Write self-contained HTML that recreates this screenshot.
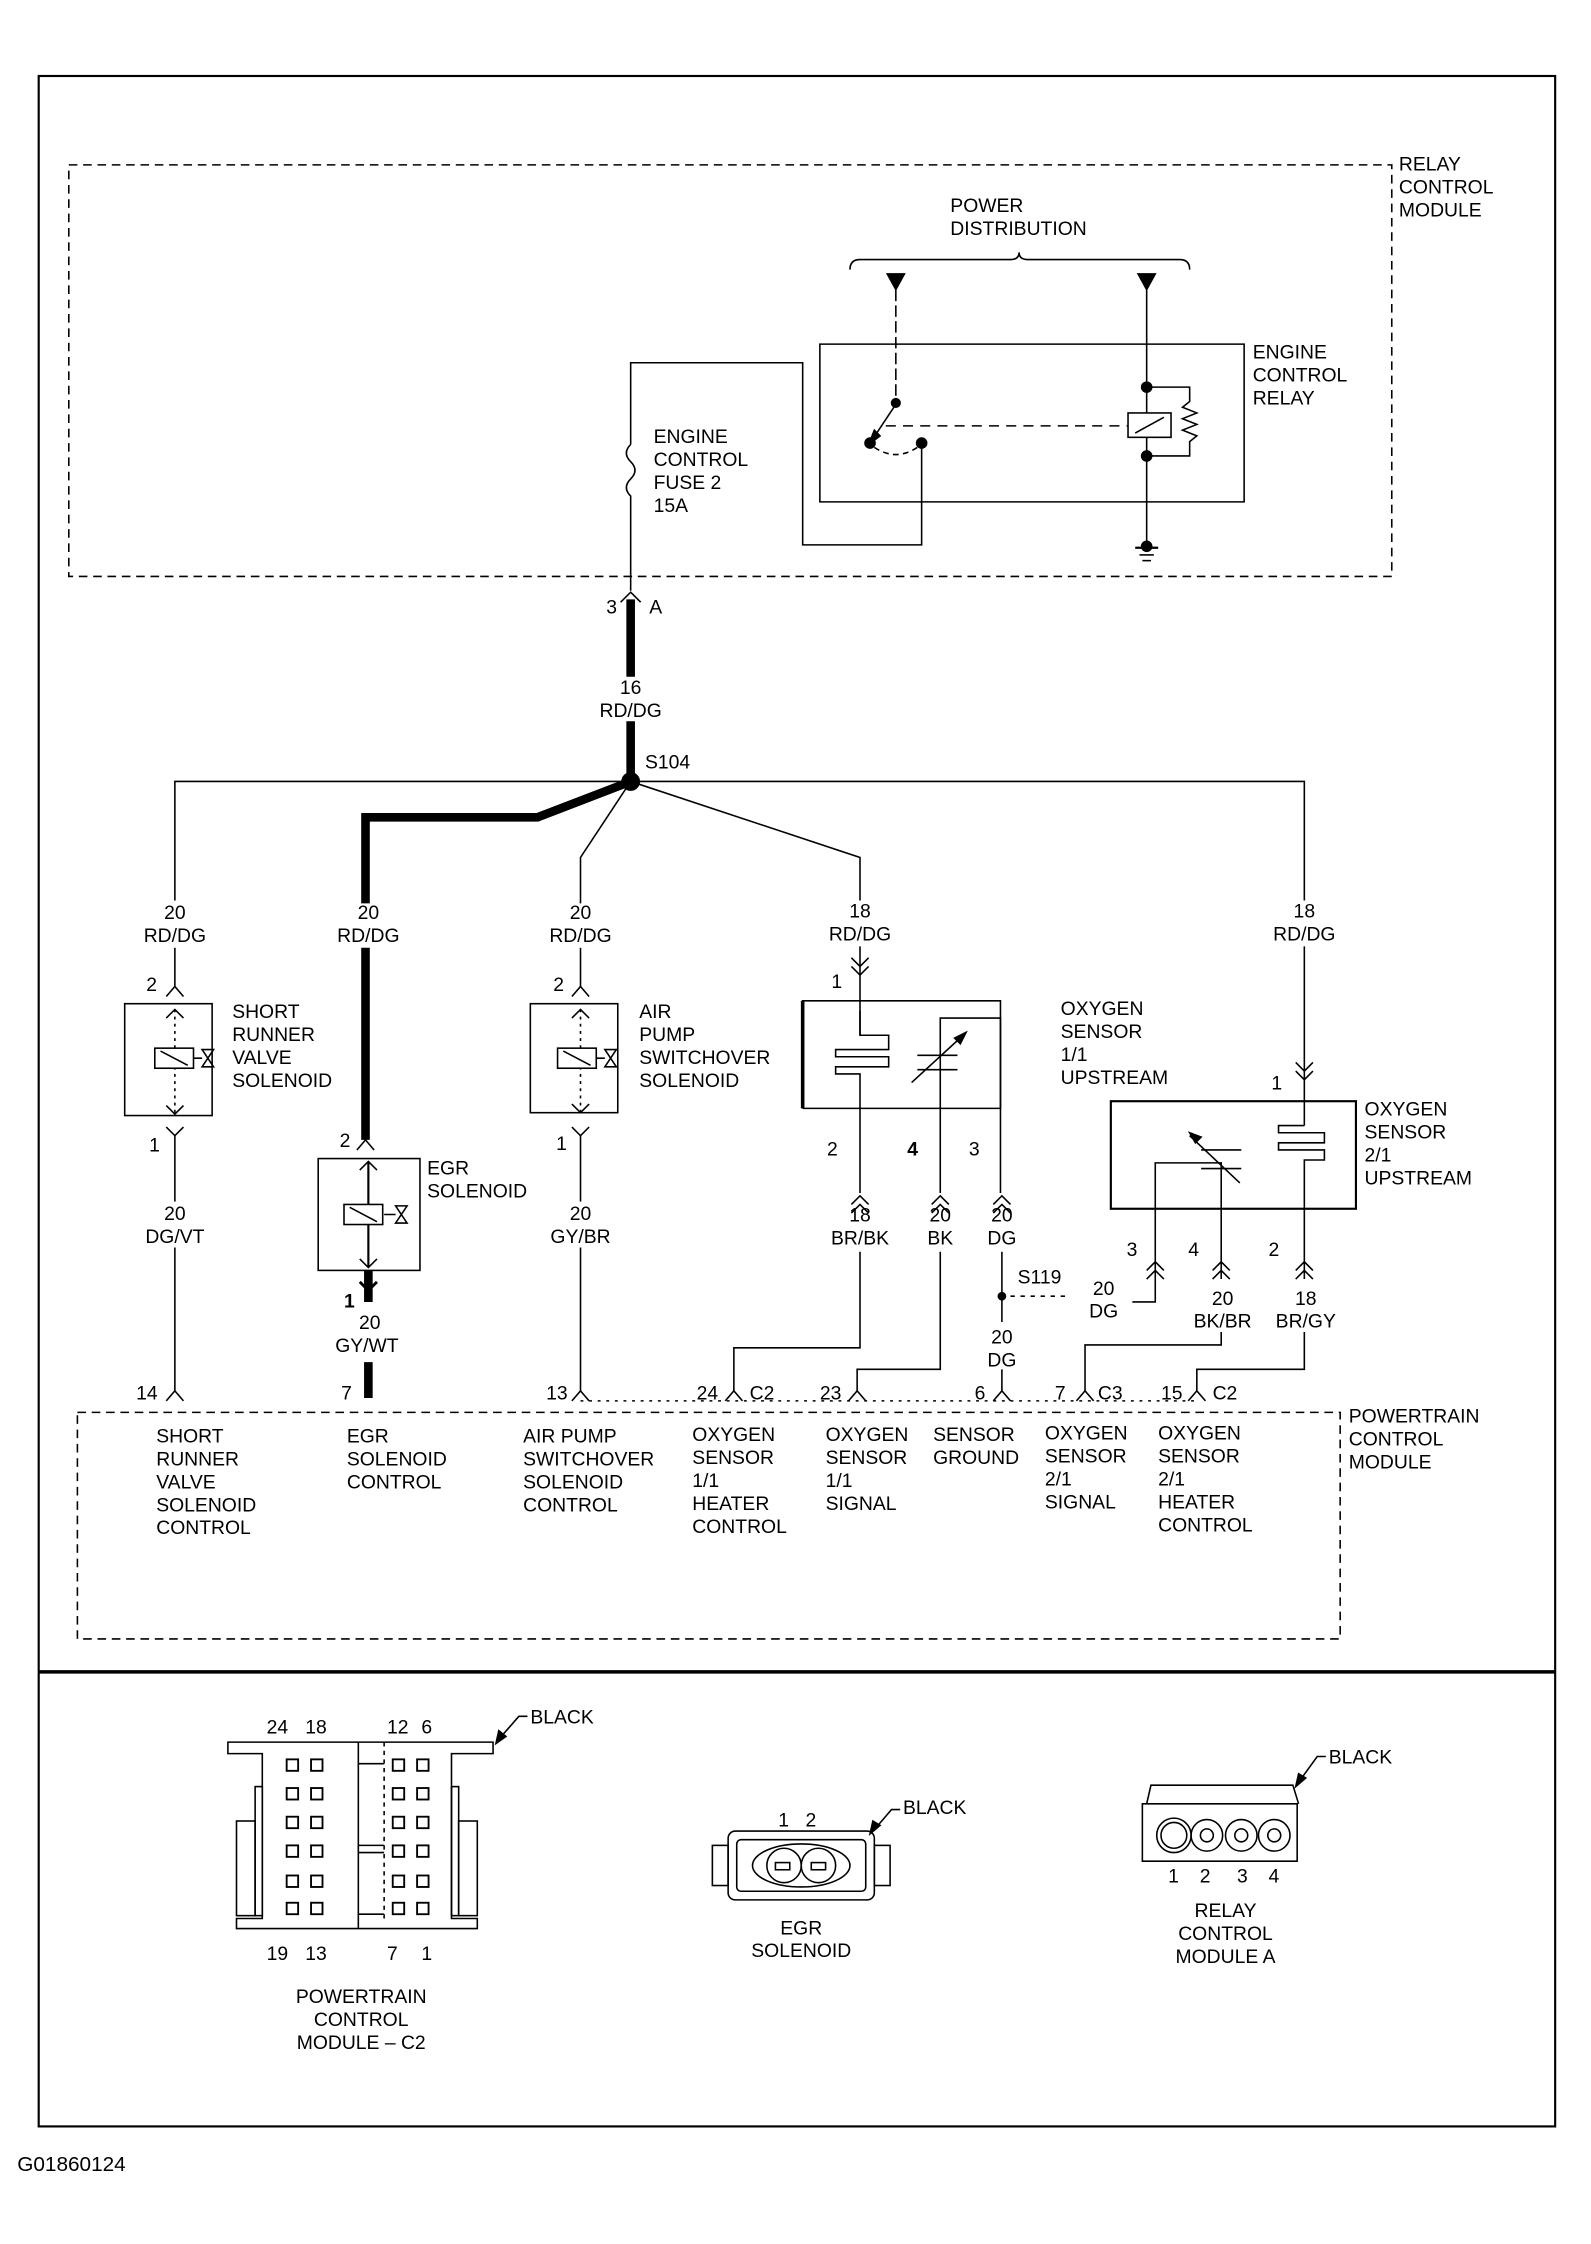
<!DOCTYPE html>
<html><head><meta charset="utf-8"><style>
html,body{margin:0;padding:0;background:#fff;}
svg{display:block;}
text{font-family:"Liberation Sans",sans-serif;font-size:13.5px;fill:#000;}
.c{text-anchor:middle;}
</style></head><body>
<svg width="1591" height="2244" viewBox="0 0 1110 1565" preserveAspectRatio="none" xmlns="http://www.w3.org/2000/svg">
<g fill="none" stroke="#000" stroke-width="1.1">
<rect x="27" y="53" width="1058" height="1430" stroke-width="1.5"/>
<line x1="27" y1="1166" x2="1085" y2="1166" stroke-width="2.5"/>
<rect x="48" y="115" width="923" height="287" stroke-dasharray="6,4"/>
<path d="M593,188 Q593,181 600,181 L705,181 Q711,181 711,176 Q711,181 717,181 L823,181 Q830,181 830,188"/>
<polygon points="619,191 631,191 625,202" fill="#000"/>
<polygon points="794,191 806,191 800,202" fill="#000"/>
<path d="M572,240 L868,240 L868,350 L572,350 Z"/>
<line x1="625" y1="202" x2="625" y2="280" stroke-dasharray="8,3"/>
<line x1="625" y1="282" x2="609" y2="306"/>
<polygon points="606,310 610,300 614,304" fill="#000"/>
<circle cx="625" cy="281" r="3" fill="#000"/>
<circle cx="607" cy="309" r="3.5" fill="#000"/>
<circle cx="643" cy="309" r="3.5" fill="#000"/>
<path d="M610,312 Q625,322 640,312" stroke-dasharray="4,3"/>
<line x1="618" y1="297" x2="787" y2="297" stroke-dasharray="7,5"/>
<line x1="800" y1="202" x2="800" y2="381"/>
<rect x="787" y="288" width="30" height="17" fill="#fff"/>
<line x1="792" y1="302" x2="812" y2="291"/>
<circle cx="800" cy="270" r="3.5" fill="#000"/>
<circle cx="800" cy="318" r="3.5" fill="#000"/>
<path d="M800,270 L830,270 L830,280 L825,284 L835,288 L825,292 L835,296 L825,300 L835,304 L830,308 L830,318 L800,318"/>
<circle cx="800" cy="381" r="3.5" fill="#000"/>
<line x1="792" y1="382" x2="808" y2="382" stroke-width="1.6"/>
<line x1="795" y1="387" x2="805" y2="387"/>
<line x1="797" y1="391" x2="803" y2="391"/>
<path d="M643,309 L643,380 L560,380 L560,253 L440,253 L440,310"/>
<path d="M440,310 Q434,316 440,322 Q446,328 440,334 Q434,340 440,346 L440,412"/>
<path d="M433,420 L440,413 L447,420"/>
<line x1="440" y1="418" x2="440" y2="472" stroke-width="6"/>
<line x1="440" y1="503" x2="440" y2="545" stroke-width="6"/>
<circle cx="440" cy="545" r="6" fill="#000"/>
<path d="M440,545 L122,545 L122,628"/>
<line x1="122" y1="661" x2="122" y2="688"/>
<path d="M440,545 L910,545 L910,628"/>
<path d="M440,545 L375,570 L255,570 L255,630" stroke-width="6"/>
<path d="M440,545 L405,598 L405,630"/>
<path d="M440,545 L600,598 L600,628"/>
<!-- SR solenoid -->
<path d="M116,695 L122,688 L128,695"/>
<rect x="87" y="700" width="61" height="78"/>
<path d="M116,710 L122,704 L128,710"/><path d="M116,771 L122,777 L128,771"/>
<line x1="122" y1="704" x2="122" y2="777" stroke-dasharray="2,3"/>
<rect x="108" y="731" width="27" height="14" fill="#fff"/><line x1="112" y1="733" x2="131" y2="743"/>
<path d="M135,738 L141,738 M141,732 L149,732 L141,744 L149,744 Z"/>
<path d="M116,786 L122,792 L128,786"/>
<line x1="122" y1="792" x2="122" y2="838"/>
<line x1="122" y1="870" x2="122" y2="970"/>
<path d="M116,977 L122,970 L128,977"/>
<!-- EGR -->
<line x1="255" y1="661" x2="255" y2="795" stroke-width="6"/>
<path d="M249,802 L255,795 L261,802"/>
<rect x="222" y="808" width="71" height="78"/>
<line x1="257" y1="810" x2="257" y2="884" stroke-width="1.5"/>
<path d="M251,816 L257,810 L263,816"/><path d="M251,878 L257,884 L263,878"/>
<rect x="240" y="840" width="27" height="14" fill="#fff"/><line x1="244" y1="842" x2="263" y2="852"/>
<path d="M268,847 L276,847 M276,841 L284,841 L276,853 L284,853 Z"/>
<line x1="257" y1="886" x2="257" y2="908" stroke-width="6"/>
<path d="M251,894 L257,900 L263,894" stroke-width="2"/>
<line x1="257" y1="950" x2="257" y2="975" stroke-width="6"/>
<!-- APS -->
<line x1="405" y1="661" x2="405" y2="688"/>
<path d="M399,695 L405,688 L411,695"/>
<rect x="370" y="700" width="61" height="76"/>
<path d="M399,710 L405,704 L411,710"/><path d="M399,770 L405,776 L411,770"/>
<line x1="405" y1="704" x2="405" y2="776" stroke-dasharray="2,3"/>
<rect x="389" y="731" width="27" height="14" fill="#fff"/><line x1="393" y1="733" x2="412" y2="743"/>
<path d="M416,738 L422,738 M422,732 L430,732 L422,744 L430,744 Z"/>
<path d="M399,786 L405,792 L411,786"/>
<line x1="405" y1="792" x2="405" y2="838"/>
<line x1="405" y1="870" x2="405" y2="970"/>
<path d="M399,977 L405,970 L411,977"/>
<!-- O2 1/1 -->
<line x1="600" y1="660" x2="600" y2="722"/>
<path d="M594,668 L600,674 L606,668 M594,674 L600,680 L606,674"/>
<path d="M560,773 L560,698 L698,698 L698,773 L560,773" />
<line x1="560" y1="698" x2="560" y2="773" stroke-width="2.5"/>
<path d="M600,705 L600,722 L620,722 L620,732 L583,732 L583,737 L620,737 L620,744 L583,744 L583,749 L600,749 L600,832"/>
<path d="M656,832 L656,710 L698,710 L698,832"/>
<path d="M640,736 L668,736 M640,746 L668,746 M636,755 L672,722"/>
<polygon points="674,720 666,724 670,728" fill="#000"/>
<path d="M594,840 L600,834 L606,840 M594,846 L600,840 L606,846"/>
<path d="M650,840 L656,834 L662,840 M650,846 L656,840 L662,846"/>
<path d="M693,840 L699,834 L705,840 M693,846 L699,840 L705,846"/>
<path d="M600,873 L600,940 L512,940 L512,970"/>
<path d="M656,873 L656,955 L598,955 L598,970"/>
<path d="M699,873 L699,922"/>
<circle cx="699" cy="904" r="2.5" fill="#000"/>
<line x1="705" y1="904" x2="745" y2="904" stroke-dasharray="3,4"/>
<line x1="699" y1="955" x2="699" y2="970"/>
<path d="M506,977 L512,970 L518,977"/>
<path d="M592,977 L598,970 L604,977"/>
<path d="M693,977 L699,970 L705,977"/>
<!-- O2 2/1 -->
<line x1="910" y1="660" x2="910" y2="785"/>
<path d="M904,741 L910,747 L916,741 M904,747 L910,753 L916,747"/>
<rect x="775" y="768" width="171" height="75" stroke-width="1.5"/>
<path d="M910,785 L892,785 L892,790 L924,790 L924,797 L892,797 L892,802 L924,802 L924,809 L910,809 L910,892"/>
<path d="M806,892 L806,811 L852,811 L852,892"/>
<path d="M838,802 L866,802 M838,815 L866,815 M830,792 L865,825"/>
<polygon points="830,790 838,793 834,797" fill="#000"/>
<path d="M800,886 L806,880 L812,886 M800,892 L806,886 L812,892"/>
<path d="M846,886 L852,880 L858,886 M846,892 L852,886 L858,892"/>
<path d="M904,886 L910,880 L916,886 M904,892 L910,886 L916,892"/>
<path d="M806,892 L806,908 L790,908"/>
<path d="M852,929 L852,938 L757,938 L757,970"/>
<path d="M910,929 L910,955 L835,955 L835,970"/>
<path d="M751,977 L757,970 L763,977"/>
<path d="M829,977 L835,970 L841,977"/>
<line x1="405" y1="977" x2="835" y2="977" stroke-dasharray="2,4"/>
<rect x="54" y="985" width="881" height="158" stroke-dasharray="6,4"/>
<!-- PCM connector -->
<path d="M159,1215 L344,1215 L344,1223 L315,1223 L315,1338 L333,1338 L333,1345 L165,1345 L165,1338 L183,1338 L183,1223 L159,1223 Z"/>
<line x1="250" y1="1215" x2="250" y2="1345"/>
<line x1="268" y1="1215" x2="268" y2="1340" stroke-dasharray="3,3"/>
<line x1="250" y1="1230" x2="268" y2="1230"/><line x1="250" y1="1287" x2="268" y2="1287"/><line x1="250" y1="1292" x2="268" y2="1292"/><line x1="250" y1="1335" x2="268" y2="1335"/>
<rect x="165" y="1270" width="13" height="66"/><rect x="178" y="1246" width="5" height="90"/>
<rect x="320" y="1270" width="13" height="66"/><rect x="315" y="1246" width="5" height="90"/>
<g stroke-width="1.3">
<rect x="200" y="1227" width="8" height="8"/><rect x="217" y="1227" width="8" height="8"/><rect x="274" y="1227" width="8" height="8"/><rect x="291" y="1227" width="8" height="8"/>
<rect x="200" y="1247" width="8" height="8"/><rect x="217" y="1247" width="8" height="8"/><rect x="274" y="1247" width="8" height="8"/><rect x="291" y="1247" width="8" height="8"/>
<rect x="200" y="1267" width="8" height="8"/><rect x="217" y="1267" width="8" height="8"/><rect x="274" y="1267" width="8" height="8"/><rect x="291" y="1267" width="8" height="8"/>
<rect x="200" y="1287" width="8" height="8"/><rect x="217" y="1287" width="8" height="8"/><rect x="274" y="1287" width="8" height="8"/><rect x="291" y="1287" width="8" height="8"/>
<rect x="200" y="1308" width="8" height="8"/><rect x="217" y="1308" width="8" height="8"/><rect x="274" y="1308" width="8" height="8"/><rect x="291" y="1308" width="8" height="8"/>
<rect x="200" y="1327" width="8" height="8"/><rect x="217" y="1327" width="8" height="8"/><rect x="274" y="1327" width="8" height="8"/><rect x="291" y="1327" width="8" height="8"/>
</g>
<path d="M368,1197 L362,1197 L348,1213"/><polygon points="346,1216 348,1207 353,1211" fill="#000"/>
<!-- EGR connector -->
<rect x="508" y="1277" width="102" height="48" rx="5"/>
<rect x="514" y="1283" width="90" height="36" rx="3"/>
<rect x="497" y="1287" width="11" height="28"/><rect x="610" y="1287" width="11" height="28"/>
<ellipse cx="559" cy="1301" rx="34" ry="15"/>
<circle cx="547" cy="1301" r="12"/><circle cx="571" cy="1301" r="12"/>
<rect x="541" y="1299" width="10" height="5"/><rect x="566" y="1299" width="10" height="5"/>
<path d="M628,1262 L622,1262 L610,1276"/><polygon points="607,1279 609,1270 614,1273" fill="#000"/>
<!-- relay A connector -->
<path d="M797,1298 L797,1258 L905,1258 L905,1298 Z"/>
<path d="M800,1258 L803,1245 L902,1245 L906,1258"/>
<circle cx="819" cy="1280" r="12"/><circle cx="819" cy="1280" r="9"/>
<circle cx="842" cy="1280" r="11"/><circle cx="842" cy="1280" r="4.5"/>
<circle cx="866" cy="1280" r="11"/><circle cx="866" cy="1280" r="4.5"/>
<circle cx="889" cy="1280" r="11"/><circle cx="889" cy="1280" r="4.5"/>
<path d="M925,1225 L919,1225 L906,1243"/><polygon points="904,1246 906,1237 911,1240" fill="#000"/>
</g>
<text x="976" y="119">RELAY</text><text x="976" y="135">CONTROL</text><text x="976" y="151">MODULE</text>
<text x="663" y="148">POWER</text><text x="663" y="164">DISTRIBUTION</text>
<text x="874" y="250">ENGINE</text><text x="874" y="266">CONTROL</text><text x="874" y="282">RELAY</text>
<text x="456" y="309">ENGINE</text><text x="456" y="325">CONTROL</text><text x="456" y="341">FUSE 2</text><text x="456" y="357">15A</text>
<text x="423" y="428">3</text><text x="453" y="428">A</text>
<text class="c" x="440" y="484">16</text><text class="c" x="440" y="500">RD/DG</text>
<text x="450" y="536">S104</text>
<text class="c" x="122" y="641">20</text><text class="c" x="122" y="657">RD/DG</text>
<text class="c" x="257" y="641">20</text><text class="c" x="257" y="657">RD/DG</text>
<text class="c" x="405" y="641">20</text><text class="c" x="405" y="657">RD/DG</text>
<text class="c" x="600" y="640">18</text><text class="c" x="600" y="656">RD/DG</text>
<text class="c" x="910" y="640">18</text><text class="c" x="910" y="656">RD/DG</text>
<text x="102" y="691">2</text><text x="162" y="710">SHORT</text><text x="162" y="726">RUNNER</text><text x="162" y="742">VALVE</text><text x="162" y="758">SOLENOID</text>
<text x="104" y="803">1</text>
<text class="c" x="122" y="851">20</text><text class="c" x="122" y="867">DG/VT</text>
<text x="95" y="976">14</text>
<text x="237" y="800">2</text><text x="298" y="819">EGR</text><text x="298" y="835">SOLENOID</text>
<text x="240" y="912" font-weight="bold">1</text>
<text class="c" x="258" y="927">20</text><text class="c" x="256" y="943">GY/WT</text>
<text x="238" y="976">7</text>
<text x="386" y="691">2</text><text x="446" y="710">AIR</text><text x="446" y="726">PUMP</text><text x="446" y="742">SWITCHOVER</text><text x="446" y="758">SOLENOID</text>
<text x="388" y="802">1</text>
<text class="c" x="405" y="851">20</text><text class="c" x="405" y="867">GY/BR</text>
<text x="381" y="976">13</text>
<text x="580" y="689">1</text>
<text x="740" y="708">OXYGEN</text><text x="740" y="724">SENSOR</text><text x="740" y="740">1/1</text><text x="740" y="756">UPSTREAM</text>
<text x="577" y="806">2</text><text x="633" y="806" font-weight="bold">4</text><text x="676" y="806">3</text>
<text class="c" x="600" y="852">18</text><text class="c" x="600" y="868">BR/BK</text>
<text class="c" x="656" y="852">20</text><text class="c" x="656" y="868">BK</text>
<text class="c" x="699" y="852">20</text><text class="c" x="699" y="868">DG</text>
<text x="710" y="895">S119</text>
<text class="c" x="699" y="937">20</text><text class="c" x="699" y="953">DG</text>
<text x="486" y="976">24</text><text x="523" y="976">C2</text>
<text x="572" y="976">23</text><text x="680" y="976">6</text>
<text x="887" y="760">1</text>
<text x="952" y="778">OXYGEN</text><text x="952" y="794">SENSOR</text><text x="952" y="810">2/1</text><text x="952" y="826">UPSTREAM</text>
<text x="786" y="876">3</text><text x="829" y="876">4</text><text x="885" y="876">2</text>
<text class="c" x="770" y="903">20</text><text class="c" x="770" y="919">DG</text>
<text class="c" x="853" y="910">20</text><text class="c" x="853" y="926">BK/BR</text>
<text class="c" x="911" y="910">18</text><text class="c" x="911" y="926">BR/GY</text>
<text x="736" y="976">7</text><text x="766" y="976">C3</text>
<text x="810" y="976">15</text><text x="846" y="976">C2</text>
<text x="109" y="1006">SHORT</text><text x="109" y="1022">RUNNER</text><text x="109" y="1038">VALVE</text><text x="109" y="1054">SOLENOID</text><text x="109" y="1070">CONTROL</text>
<text x="242" y="1006">EGR</text><text x="242" y="1022">SOLENOID</text><text x="242" y="1038">CONTROL</text>
<text x="365" y="1006">AIR PUMP</text><text x="365" y="1022">SWITCHOVER</text><text x="365" y="1038">SOLENOID</text><text x="365" y="1054">CONTROL</text>
<text x="483" y="1005">OXYGEN</text><text x="483" y="1021">SENSOR</text><text x="483" y="1037">1/1</text><text x="483" y="1053">HEATER</text><text x="483" y="1069">CONTROL</text>
<text x="576" y="1005">OXYGEN</text><text x="576" y="1021">SENSOR</text><text x="576" y="1037">1/1</text><text x="576" y="1053">SIGNAL</text>
<text x="651" y="1005">SENSOR</text><text x="651" y="1021">GROUND</text>
<text x="729" y="1004">OXYGEN</text><text x="729" y="1020">SENSOR</text><text x="729" y="1036">2/1</text><text x="729" y="1052">SIGNAL</text>
<text x="808" y="1004">OXYGEN</text><text x="808" y="1020">SENSOR</text><text x="808" y="1036">2/1</text><text x="808" y="1052">HEATER</text><text x="808" y="1068">CONTROL</text>
<text x="941" y="992">POWERTRAIN</text><text x="941" y="1008">CONTROL</text><text x="941" y="1024">MODULE</text>
<text x="186" y="1209">24</text><text x="213" y="1209">18</text><text x="270" y="1209">12</text><text x="294" y="1209">6</text>
<text x="370" y="1202">BLACK</text>
<text x="186" y="1367">19</text><text x="213" y="1367">13</text><text x="270" y="1367">7</text><text x="294" y="1367">1</text>
<text class="c" x="252" y="1397">POWERTRAIN</text><text class="c" x="252" y="1413">CONTROL</text><text class="c" x="252" y="1429">MODULE – C2</text>
<text x="543" y="1274">1</text><text x="562" y="1274">2</text><text x="630" y="1265">BLACK</text>
<text class="c" x="559" y="1349">EGR</text><text class="c" x="559" y="1365">SOLENOID</text>
<text x="927" y="1230">BLACK</text>
<text x="815" y="1313">1</text><text x="837" y="1313">2</text><text x="863" y="1313">3</text><text x="885" y="1313">4</text>
<text class="c" x="855" y="1337">RELAY</text><text class="c" x="855" y="1353">CONTROL</text><text class="c" x="855" y="1369">MODULE A</text>
<text x="12" y="1514" style="font-size:14.5px">G01860124</text>
</svg>
</body></html>
